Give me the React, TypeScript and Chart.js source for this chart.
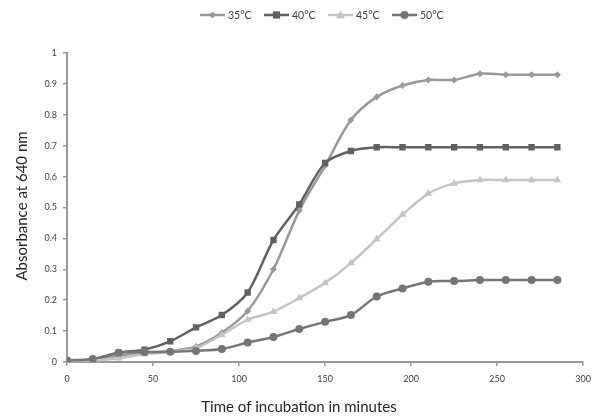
import React, { useEffect, useRef } from "react";
import { Chart, registerables } from "chart.js";

Chart.register(...registerables);

const minutes = [0, 15, 30, 45, 60, 75, 90, 105, 120, 135, 150, 165, 180, 195, 210, 225, 240, 255, 270, 285];
const temp35 = [0.005, 0.005, 0.02, 0.03, 0.035, 0.05, 0.095, 0.165, 0.3, 0.49, 0.635, 0.783, 0.858, 0.895, 0.913, 0.913, 0.933, 0.93, 0.93, 0.93];
const temp40 = [0.005, 0.008, 0.03, 0.04, 0.067, 0.112, 0.152, 0.225, 0.395, 0.51, 0.644, 0.683, 0.695, 0.695, 0.695, 0.695, 0.695, 0.695, 0.695, 0.695];
const temp45 = [0.005, 0.005, 0.012, 0.025, 0.032, 0.045, 0.088, 0.137, 0.163, 0.207, 0.256, 0.32, 0.398, 0.477, 0.545, 0.578, 0.589, 0.589, 0.589, 0.589];
const temp50 = [0.005, 0.01, 0.03, 0.032, 0.033, 0.036, 0.042, 0.063, 0.081, 0.107, 0.13, 0.152, 0.212, 0.238, 0.26, 0.262, 0.265, 0.265, 0.265, 0.265];

const seriesLabels = ["35°C", "40°C", "45°C", "50°C"];
const seriesColors = ["#9a9a9a", "#616161", "#c4c4c4", "#757575"];
const seriesStyles = ["rectRot", "rect", "triangle", "circle"];
const seriesRadius = [3.5, 4.5, 4.5, 4];
const xTitle = "Time of incubation in minutes";
const yTitle = "Absorbance at 640 nm";

const FONT = "Lato, 'DejaVu Sans', sans-serif";

const customPlugin = {
  id: "customDecor",
  afterDraw(chart: any) {
    const ctx = chart.ctx;
    ctx.save();
    // legend
    ctx.font = `10.5px ${FONT}`;
    ctx.textBaseline = "middle";
    const y = 15;
    seriesLabels.forEach((lab, i) => {
      const x = 200 + i * 64;
      ctx.strokeStyle = seriesColors[i];
      ctx.lineWidth = 2.5;
      ctx.beginPath();
      ctx.moveTo(x, y);
      ctx.lineTo(x + 25, y);
      ctx.stroke();
      ctx.fillStyle = seriesColors[i];
      const cx = x + 12.5;
      const r = seriesRadius[i];
      ctx.beginPath();
      if (seriesStyles[i] === "rectRot") {
        ctx.moveTo(cx, y - r); ctx.lineTo(cx + r, y); ctx.lineTo(cx, y + r); ctx.lineTo(cx - r, y); ctx.closePath();
      } else if (seriesStyles[i] === "rect") {
        ctx.rect(cx - r * 0.8, y - r * 0.8, r * 1.6, r * 1.6);
      } else if (seriesStyles[i] === "triangle") {
        ctx.moveTo(cx, y - r); ctx.lineTo(cx + r, y + r * 0.7); ctx.lineTo(cx - r, y + r * 0.7); ctx.closePath();
      } else {
        ctx.arc(cx, y, r, 0, Math.PI * 2);
      }
      ctx.fill();
      ctx.fillStyle = "#404040";
      ctx.textAlign = "left";
      ctx.fillText(lab, x + 28, y + 1);
    });
    // titles
    ctx.fillStyle = "#262626";
    ctx.font = `15px ${FONT}`;
    ctx.textAlign = "center";
    ctx.textBaseline = "middle";
    ctx.fillText(xTitle, 299, 407);
    ctx.translate(22, 206);
    ctx.rotate(-Math.PI / 2);
    ctx.fillText(yTitle, 0, 0);
    ctx.restore();
  },
};

export default function App() {
  const ref = useRef<HTMLCanvasElement>(null);
  useEffect(() => {
    const sets = [temp35, temp40, temp45, temp50];
    const chart = new Chart(ref.current!, {
      type: "line",
      data: {
        datasets: sets.map((arr, i) => ({
          label: seriesLabels[i],
          data: arr.map((v, j) => ({ x: minutes[j], y: v })),
          borderColor: seriesColors[i],
          backgroundColor: seriesColors[i],
          pointBackgroundColor: seriesColors[i],
          pointBorderColor: seriesColors[i],
          pointStyle: seriesStyles[i] as any,
          pointRadius: seriesRadius[i],
          pointBorderWidth: 0,
          borderWidth: 2.5,
          tension: 0.3,
          fill: false,
          order: 4 - i,
        })),
      },
      options: {
        responsive: false,
        animation: false,
        layout: { padding: { top: 53, right: 9, left: 0, bottom: 0 } },
        plugins: { legend: { display: false }, tooltip: { enabled: false } },
        scales: {
          x: {
            type: "linear",
            min: 0,
            max: 300,
            ticks: { stepSize: 50, color: "#404040", font: { size: 9, family: FONT }, padding: 8 },
            grid: { drawOnChartArea: false, color: "#999999", tickLength: 4, lineWidth: 1.5 },
            border: { color: "#999999", width: 2 },
            afterFit: (s: any) => { s.height = 57; },
          },
          y: {
            min: 0,
            max: 1,
            ticks: {
              stepSize: 0.1,
              color: "#404040",
              font: { size: 9, family: FONT },
              padding: 6,
              callback: (v: any) => String(Math.round(Number(v) * 10) / 10),
            },
            grid: { drawOnChartArea: false, color: "#999999", tickLength: 4, lineWidth: 1.5 },
            border: { color: "#999999", width: 2 },
            afterFit: (s: any) => { s.width = 67; },
          },
        },
      },
      plugins: [customPlugin],
    });
    return () => chart.destroy();
  }, []);
  return (
    <div style={{ position: "absolute", left: 0, top: 0, width: 599, height: 419, background: "#fff" }}>
      <canvas ref={ref} width={599} height={419} style={{ display: "block" }} />
    </div>
  );
}
